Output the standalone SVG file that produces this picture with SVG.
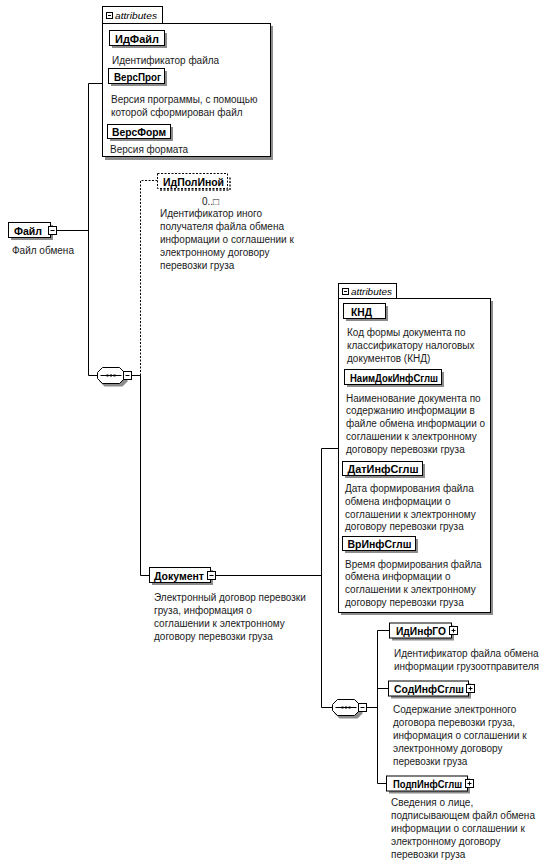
<svg xmlns="http://www.w3.org/2000/svg" width="556" height="864" viewBox="0 0 556 864">
<style>
.bg{fill:#fff}
.box{fill:#fff;stroke:#000;stroke-width:1}
.sh{fill:#8c8c8c}
.name{font-family:"Liberation Sans",Arial,sans-serif;font-weight:bold;font-size:11.5px;fill:#000}
.desc{font-family:"Liberation Sans",Arial,sans-serif;font-size:10px;fill:#1a1a1a}
.attr{font-family:"Liberation Sans",Arial,sans-serif;font-style:italic;font-size:8.5px;fill:#000}
.conn{fill:none;stroke:#000;stroke-width:1}
.dash{stroke-dasharray:2,1.5}
</style>
<defs>
<g id="minus"><rect width="8" height="8" fill="#fff" stroke="#000"/><path d="M2,4H6" stroke="#000"/></g>
<g id="plus"><rect width="8" height="8" fill="#fff" stroke="#000"/><path d="M2,4H6M4,2V6" stroke="#000"/></g>
<g id="tabminus"><rect width="6" height="6" fill="#fff" stroke="#000"/><path d="M1.5,3H4.5" stroke="#000"/></g>
<g id="seq">
<path d="M7,3H25L30,8V14L25,19H7L2,14V8Z" fill="#8c8c8c"/>
<path d="M5,0H22L27,5V11L22,16H5L0,11V5Z" fill="#fff" stroke="#000"/>
<path d="M3,8H24" stroke="#000"/>
<rect x="9" y="7" width="2" height="2"/><rect x="12.5" y="7" width="2" height="2"/><rect x="16" y="7" width="2" height="2"/>
<use href="#minus" x="26" y="4"/>
</g>
</defs>
<rect class="bg" width="556" height="864"/>

<g id="connectors">
<path class="conn" d="M56.5,230.5H88.5M88.5,83.5V375.5M88.5,83.5H102.5M88.5,375.5H97.5"/>
<path class="conn" d="M131.5,375.5H140.5M140.5,375.5V575.5H149.5"/>
<path class="conn dash" d="M140.5,375.5V180.5H157.5"/>
<path class="conn" d="M215.5,575.5H321.5M321.5,448.5V707.5M321.5,448.5H338.5M321.5,707.5H332.5"/>
<path class="conn" d="M366.5,707.5H377.5M377.5,630.5V783.5M377.5,630.5H389.5M377.5,688.5H388.5M377.5,783.5H386.5"/>
</g>

<g id="attrs-file">
<rect class="sh" x="105" y="26" width="168" height="134"/>
<rect class="box" x="102.5" y="6.5" width="60" height="17"/>
<rect class="box" x="102.5" y="23.5" width="168" height="133"/>
<use href="#tabminus" x="106.5" y="12.5"/>
<text class="attr" x="115" y="19" textLength="42" lengthAdjust="spacingAndGlyphs">attributes</text>
<rect class="sh" x="112" y="33" width="55" height="15"/>
<rect class="box" x="109.5" y="30.5" width="55" height="15"/>
<text class="name" x="115" y="42.5" textLength="44" lengthAdjust="spacingAndGlyphs">ИдФайл</text>
<text class="desc" x="112" y="63.5">Идентификатор файла</text>
<rect class="sh" x="111" y="71" width="56" height="15"/>
<rect class="box" x="108.5" y="68.5" width="56" height="15"/>
<text class="name" x="114" y="80.5" textLength="47" lengthAdjust="spacingAndGlyphs">ВерсПрог</text>
<text class="desc" x="111" y="102.5">Версия программы, с помощью</text>
<text class="desc" x="111" y="115.5">которой сформирован файл</text>
<rect class="sh" x="110" y="127" width="63" height="14"/>
<rect class="box" x="107.5" y="124.5" width="63" height="14"/>
<text class="name" x="112" y="136" textLength="54" lengthAdjust="spacingAndGlyphs">ВерсФорм</text>
<text class="desc" x="110" y="153">Версия формата</text>
</g>

<g id="node-file">
<rect class="sh" x="11" y="225" width="42" height="15"/>
<rect class="box" x="8.5" y="222.5" width="42" height="15"/>
<text class="name" x="14" y="234.5" textLength="28" lengthAdjust="spacingAndGlyphs">Файл</text>
<use href="#minus" x="48.5" y="226.5"/>
<text class="desc" x="12" y="253.5">Файл обмена</text>
</g>

<g id="seq-file">
<use href="#seq" x="97.5" y="367.5"/>
</g>

<g id="node-idpolinoy">
<path d="M160,190H230V176" fill="none" stroke="#555" stroke-width="2" stroke-dasharray="2,1.5"/>
<rect class="box dash" x="157.5" y="173.5" width="70" height="15"/>
<text class="name" x="163" y="185.5" textLength="61" lengthAdjust="spacingAndGlyphs">ИдПолИной</text>
<text class="desc" x="202" y="205">0..□</text>
<text class="desc" x="160" y="217">Идентификатор иного</text>
<text class="desc" x="160" y="230">получателя файла обмена</text>
<text class="desc" x="160" y="243">информации о соглашении к</text>
<text class="desc" x="160" y="256">электронному договору</text>
<text class="desc" x="160" y="269">перевозки груза</text>
</g>

<g id="node-document">
<rect class="sh" x="152" y="570" width="61" height="15"/>
<rect class="box" x="149.5" y="567.5" width="61" height="15"/>
<text class="name" x="154" y="579.5" textLength="50" lengthAdjust="spacingAndGlyphs">Документ</text>
<use href="#minus" x="207.5" y="571.5"/>
<text class="desc" x="154" y="600.5">Электронный договор перевозки</text>
<text class="desc" x="154" y="613.5">груза, информация о</text>
<text class="desc" x="154" y="626.5">соглашении к электронному</text>
<text class="desc" x="154" y="639.5">договору перевозки груза</text>
</g>

<g id="attrs-document">
<rect class="sh" x="341" y="301" width="152" height="314"/>
<rect class="box" x="338.5" y="283.5" width="58" height="15"/>
<rect class="box" x="338.5" y="298.5" width="152" height="314"/>
<use href="#tabminus" x="342.5" y="288.5"/>
<text class="attr" x="351" y="294.5" textLength="41" lengthAdjust="spacingAndGlyphs">attributes</text>
<rect class="sh" x="346" y="306" width="42" height="15"/>
<rect class="box" x="343.5" y="303.5" width="42" height="15"/>
<text class="name" x="351" y="315.5" textLength="21" lengthAdjust="spacingAndGlyphs">КНД</text>
<text class="desc" x="347" y="335.5">Код формы документа по</text>
<text class="desc" x="347" y="348.5">классификатору налоговых</text>
<text class="desc" x="347" y="361.5">документов (КНД)</text>
<rect class="sh" x="347" y="372" width="97" height="15"/>
<rect class="box" x="344.5" y="369.5" width="97" height="15"/>
<text class="name" x="350" y="381.5" textLength="88" lengthAdjust="spacingAndGlyphs">НаимДокИнфСглш</text>
<text class="desc" x="346" y="401.5">Наименование документа по</text>
<text class="desc" x="346" y="414.3">содержанию информации в</text>
<text class="desc" x="346" y="427">файле обмена информации о</text>
<text class="desc" x="346" y="439.8">соглашении к электронному</text>
<text class="desc" x="346" y="452.5">договору перевозки груза</text>
<rect class="sh" x="345" y="464" width="80" height="14"/>
<rect class="box" x="342.5" y="461.5" width="80" height="14"/>
<text class="name" x="347.5" y="473" textLength="71" lengthAdjust="spacingAndGlyphs">ДатИнфСглш</text>
<text class="desc" x="345" y="492">Дата формирования файла</text>
<text class="desc" x="345" y="504.7">обмена информации о</text>
<text class="desc" x="345" y="517.5">соглашении к электронному</text>
<text class="desc" x="345" y="530.2">договору перевозки груза</text>
<rect class="sh" x="345" y="539" width="73" height="14"/>
<rect class="box" x="342.5" y="536.5" width="73" height="14"/>
<text class="name" x="347.5" y="548" textLength="64" lengthAdjust="spacingAndGlyphs">ВрИнфСглш</text>
<text class="desc" x="345" y="567.5">Время формирования файла</text>
<text class="desc" x="345" y="580.2">обмена информации о</text>
<text class="desc" x="345" y="593">соглашении к электронному</text>
<text class="desc" x="345" y="605.7">договору перевозки груза</text>
</g>

<g id="seq-document">
<use href="#seq" x="332.5" y="699.5"/>
</g>

<g id="node-idinfgo">
<rect class="sh" x="392" y="625.5" width="62" height="15"/>
<rect class="box" x="389.5" y="623" width="62" height="15"/>
<text class="name" x="396" y="635" textLength="50" lengthAdjust="spacingAndGlyphs">ИдИнфГО</text>
<use href="#plus" x="449.5" y="626.5"/>
<text class="desc" x="394" y="656.5">Идентификатор файла обмена</text>
<text class="desc" x="394" y="669.5">информации грузоотправителя</text>
</g>

<g id="node-sodinfsglsh">
<rect class="sh" x="391" y="683.5" width="80" height="15"/>
<rect class="box" x="388.5" y="681" width="80" height="15"/>
<text class="name" x="394" y="693" textLength="70" lengthAdjust="spacingAndGlyphs">СодИнфСглш</text>
<use href="#plus" x="466.5" y="684.5"/>
<text class="desc" x="393" y="712.5">Содержание электронного</text>
<text class="desc" x="393" y="725.5">договора перевозки груза,</text>
<text class="desc" x="393" y="738.5">информация о соглашении к</text>
<text class="desc" x="393" y="751.5">электронному договору</text>
<text class="desc" x="393" y="764.5">перевозки груза</text>
</g>

<g id="node-podpinfsglsh">
<rect class="sh" x="389" y="778.5" width="81" height="15"/>
<rect class="box" x="386.5" y="776" width="81" height="15"/>
<text class="name" x="393" y="788" textLength="69" lengthAdjust="spacingAndGlyphs">ПодпИнфСглш</text>
<use href="#plus" x="465.5" y="779.5"/>
<text class="desc" x="391" y="805.5">Сведения о лице,</text>
<text class="desc" x="391" y="818.7">подписывающем файл обмена</text>
<text class="desc" x="391" y="831.9">информации о соглашении к</text>
<text class="desc" x="391" y="845.1">электронному договору</text>
<text class="desc" x="391" y="858.3">перевозки груза</text>
</g>
</svg>
